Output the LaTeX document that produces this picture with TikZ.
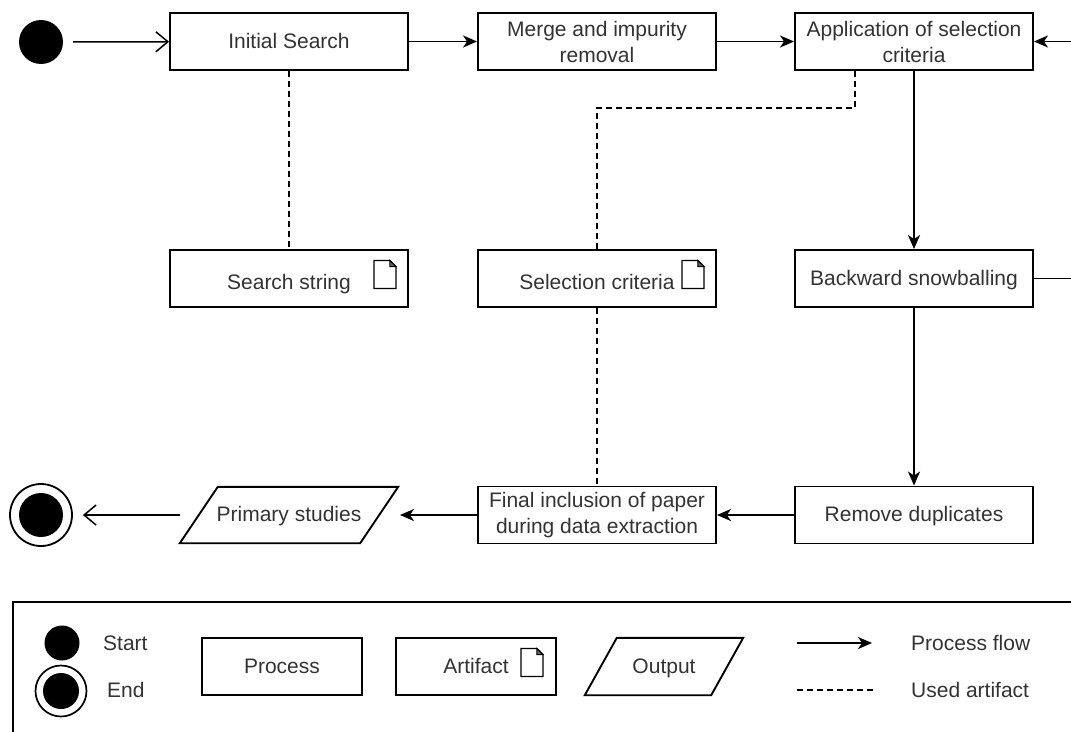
\documentclass[tikz,border=0pt]{standalone}
\usepackage{fontspec}
\setmainfont{Liberation Sans}
\usetikzlibrary{arrows.meta}

\tikzset{
  x=1pt, y=-1pt,
  lbl/.style={font=\fontsize{21}{26}\selectfont, text=black!80, inner sep=0pt},
  oneline/.style={text height=17pt, text depth=4pt},
  proc/.style={lbl, draw=black, line width=1.9pt, minimum width=238pt, minimum height=57pt, align=center},
  artbox/.style={proc, text height=22pt, text depth=0pt},
  outbox/.style={lbl, oneline, minimum height=56pt, align=center},
  startdot/.style={circle, fill=black, draw=none, minimum size=44pt, inner sep=0pt},
  endring/.style={circle, draw=black, line width=1.8pt, fill=white, minimum size=62pt, inner sep=0pt},
  flow/.style={line width=1.8pt, -{Stealth[length=14pt, width=12pt, inset=4pt]}},
  openflow/.style={line width=1.5pt, -{Straight Barb[length=12pt, width=20pt, line width=1.5pt]}},
  used/.style={line width=1.5pt, dash pattern=on 6pt off 4pt},
  docicon/.pic={
    \draw[line width=1.3pt, line join=miter, fill=white]
      (-11,-14) -- (5,-14) -- (11,-8) -- (11,14) -- (-11,14) -- cycle;
    \draw[line width=1pt, fill=black!60] (5,-14) -- (5,-8) -- (11,-8) -- cycle;
  },
}

\begin{document}
\begin{tikzpicture}
\useasboundingbox (0,0) rectangle (1071,731);
\clip (0,0) rectangle (1071,731);
\fill[white] (0,0) rectangle (1071,731);

% ---- process row 1
\node[startdot] (start) at (41,42) {};
\node[proc, oneline] (init)  at (289,41.5) {Initial Search};
\node[proc] (merge) at (597,41.5) {Merge and impurity\\removal};
\node[proc] (app)   at (914,41.5) {Application of selection\\criteria};

% ---- artifacts and snowballing
\node[artbox] (ss) at (289,278.5) {Search string};
\node[artbox] (sc) at (597,278.5) {Selection criteria};
\node[proc, oneline] (bs) at (914,278.5) {Backward snowballing};
\pic at ([xshift=-24pt, yshift=4pt]ss.east) {docicon};
\pic at ([xshift=-24pt, yshift=4pt]sc.east) {docicon};

% ---- bottom row
\node[proc, oneline] (rd)  at (914,515) {Remove duplicates};
\node[proc] (fin) at (597,515) {Final inclusion of paper\\during data extraction};
\node[outbox, minimum width=218pt] (ps) at (289,515) {Primary studies};
\draw[line width=1.9pt, line join=miter]
  (ps.south west) -- ([xshift=38pt]ps.north west) -- (ps.north east)
  -- ([xshift=-38pt]ps.south east) -- cycle;
\node[endring] (endo) at (41,515) {};
\node[startdot] (endi) at (endo) {};

% ---- process flow
\draw[openflow, shorten <=10pt] (start) -- (init);
\draw[flow] (init) -- (merge);
\draw[flow] (merge) -- (app);
\draw[flow] (app) -- (bs);
\draw[flow] (bs) -- (rd);
\draw[flow] (rd) -- (fin);
\coordinate (psin) at (400,515);
\draw[flow] (fin) -- (psin);
\coordinate (psout) at (180,515);
\draw[openflow, shorten >=10pt] (psout) -- (endo);
\draw[flow] (bs.east) -- ++(50,0) |- (app.east);

% ---- used artifacts
\draw[used] (init) -- (ss);
\draw[used] ([xshift=-59pt]app.south) -- ++(0,37) -| (sc.north);
\draw[used] (sc) -- (fin);

% ---- legend
\node[draw=black, line width=1.6pt, minimum width=1090pt, minimum height=160pt, anchor=north west, inner sep=0pt] (legend) at (12,601) {};
\node[startdot, minimum size=35pt] (lstart) at (62,643) {};
\node[lbl, anchor=west] (lstartt) at (103,643) {Start};
\node[endring, minimum size=51pt, line width=1.7pt] (lendo) at (61,691) {};
\node[startdot, minimum size=36pt] (lendi) at (lendo) {};
\node[lbl, anchor=west] (lendt) at (107,690) {End};
\node[proc, oneline, minimum width=160pt] (lproc) at (282,666.5) {Process};
\node[proc, oneline, minimum width=160pt] (lart) at (476,666.5) {Artifact};
\pic at ([xshift=-25pt, yshift=4pt]lart.east) {docicon};
\node[outbox, minimum width=158pt, minimum height=57pt] (lout) at (664,666.5) {Output};
\draw[line width=1.9pt, line join=miter]
  (lout.south west) -- ([xshift=32pt]lout.north west) -- (lout.north east)
  -- ([xshift=-32pt]lout.south east) -- cycle;
\coordinate (fa) at (797,643);
\coordinate (fb) at (872,643);
\draw[flow] (fa) -- (fb);
\coordinate (ua) at (797,690);
\coordinate (ub) at (873,690);
\draw[used] (ua) -- (ub);
\node[lbl, anchor=west] (lflow) at (911,643) {Process flow};
\node[lbl, anchor=west] (lused) at (911,690) {Used artifact};
\end{tikzpicture}
\end{document}
